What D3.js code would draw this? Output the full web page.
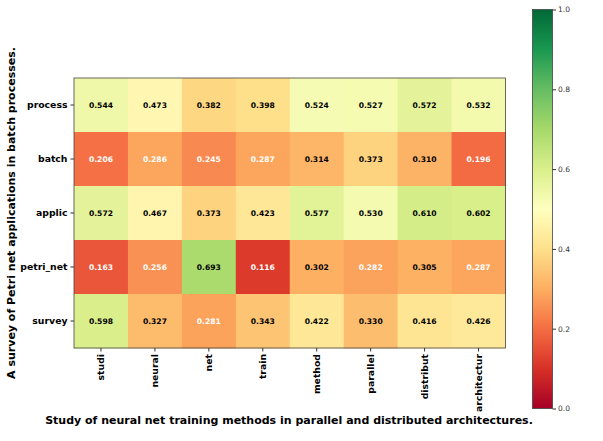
<!DOCTYPE html>
<html>
<head>
<meta charset="utf-8">
<script src="https://cdn.jsdelivr.net/npm/d3@7"></script>
<style>
body { margin: 0; background: #fff; }
text { font-family: "DejaVu Sans", sans-serif; }
</style>
</head>
<body>
<svg id="chart" width="603" height="441"></svg>
<script>
var rows = ["process", "batch", "applic", "petri_net", "survey"];
var cols = ["studi", "neural", "net", "train", "method", "parallel", "distribut", "architectur"];
var processVals = [0.544, 0.473, 0.382, 0.398, 0.524, 0.527, 0.572, 0.532];
var batchVals = [0.206, 0.286, 0.245, 0.287, 0.314, 0.373, 0.310, 0.196];
var applicVals = [0.572, 0.467, 0.373, 0.423, 0.577, 0.530, 0.610, 0.602];
var petriVals = [0.163, 0.256, 0.693, 0.116, 0.302, 0.282, 0.305, 0.287];
var surveyVals = [0.598, 0.327, 0.281, 0.343, 0.422, 0.330, 0.416, 0.426];
var colorTicks = [0, 0.2, 0.4, 0.6, 0.8, 1.0];

var values = [processVals, batchVals, applicVals, petriVals, surveyVals];
var cells = [];
values.forEach(function(r, i) {
    r.forEach(function(v, j) {
        cells.push({row: rows[i], col: cols[j], v: v});
    });
});

// matplotlib RdYlGn is linear between the 11 brewer colours
var color = d3.scaleSequential(d3.piecewise(d3.interpolateRgb, d3.schemeRdYlGn[11])).domain([0, 1]);

var svg = d3.select("#chart");

var xScale = d3.scaleBand().domain(cols).range([74, 505.5]);
var yScale = d3.scaleBand().domain(rows).range([78, 348]);

var heat = svg.append("g");
heat.selectAll("rect")
    .data(cells)
    .enter()
    .append("rect")
    .attr("x", function(d) { return xScale(d.col); })
    .attr("y", function(d) { return yScale(d.row); })
    .attr("width", xScale.bandwidth() + 0.5)
    .attr("height", yScale.bandwidth() + 0.5)
    .attr("fill", function(d) { return color(d.v); });

heat.selectAll("text")
    .data(cells)
    .enter()
    .append("text")
    .attr("x", function(d) { return xScale(d.col) + xScale.bandwidth() / 2; })
    .attr("y", function(d) { return yScale(d.row) + yScale.bandwidth() / 2; })
    .attr("dy", "0.35em")
    .attr("text-anchor", "middle")
    .attr("font-size", 7.6)
    .attr("font-weight", "bold")
    .attr("fill", function(d) { return d.v < 0.3 ? "#fff" : "#000"; })
    .text(function(d) { return d.v.toFixed(3); });

heat.append("rect")
    .attr("x", 74).attr("y", 78)
    .attr("width", 431.5).attr("height", 270)
    .attr("fill", "none")
    .attr("stroke", "#444")
    .attr("stroke-width", 0.8);

var xAxis = svg.append("g")
    .attr("transform", "translate(0,348)")
    .call(d3.axisBottom(xScale).tickSize(3.5).tickPadding(2));
xAxis.selectAll("text")
    .attr("transform", "rotate(-90)")
    .attr("text-anchor", "end")
    .attr("x", -6)
    .attr("y", 0)
    .attr("dy", "0.35em")
    .attr("font-size", 9.3)
    .attr("font-weight", "bold")
    .attr("fill", "#000");

var yAxis = svg.append("g")
    .attr("transform", "translate(74,0)")
    .call(d3.axisLeft(yScale).tickSize(3.5).tickPadding(3));
yAxis.selectAll("text")
    .attr("font-size", 9.3)
    .attr("font-weight", "bold")
    .attr("fill", "#000");

[xAxis, yAxis].forEach(function(a) {
    a.select(".domain").remove();
    a.selectAll("line").attr("stroke", "#333");
});

svg.append("text")
    .attr("x", 289)
    .attr("y", 424)
    .attr("text-anchor", "middle")
    .attr("font-size", 11)
    .attr("font-weight", "bold")
    .text("Study of neural net training methods in parallel and distributed architectures.");

svg.append("text")
    .attr("transform", "translate(15,213) rotate(-90)")
    .attr("text-anchor", "middle")
    .attr("font-size", 11)
    .attr("font-weight", "bold")
    .text("A survey of Petri net applications in batch processes.");

// colorbar
var cbY = d3.scaleLinear().domain([0, 1]).range([408.5, 9.5]);
var defs = svg.append("defs");
var grad = defs.append("linearGradient")
    .attr("id", "cbgrad")
    .attr("x1", 0).attr("y1", 1).attr("x2", 0).attr("y2", 0);
d3.range(0, 1.0001, 0.05).forEach(function(t) {
    grad.append("stop")
        .attr("offset", t)
        .attr("stop-color", color(t));
});
svg.append("rect")
    .attr("x", 532.5)
    .attr("y", cbY(1))
    .attr("width", 20)
    .attr("height", cbY(0) - cbY(1))
    .attr("fill", "url(#cbgrad)")
    .attr("stroke", "#444")
    .attr("stroke-width", 0.8);

var cbAxis = svg.append("g")
    .attr("transform", "translate(552.5,0)")
    .call(d3.axisRight(cbY).tickValues(colorTicks).tickFormat(d3.format(".1f")).tickSize(3.5).tickPadding(2));
cbAxis.select(".domain").remove();
cbAxis.selectAll("line").attr("stroke", "#333");
cbAxis.selectAll("text")
    .attr("font-size", 7.5)
    .attr("fill", "#333");
</script>
</body>
</html>
